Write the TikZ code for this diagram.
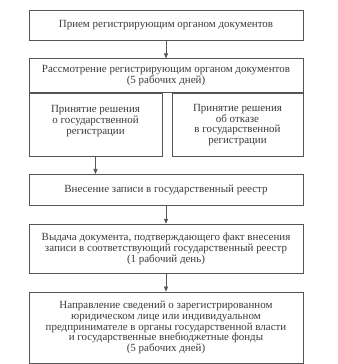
\documentclass[tikz,border=0pt]{standalone}
\usepackage{fontspec}
\setmainfont{Liberation Serif}
\usetikzlibrary{arrows.meta, positioning}
\definecolor{lineGray}{HTML}{555555}
\definecolor{textGray}{HTML}{3C3C3C}
\tikzset{
  box/.style={draw=lineGray, line width=0.8pt, fill=white, align=center,
              text=textGray, font=\fontsize{11}{10.9}\selectfont,
              minimum width=274bp, inner sep=1bp},
  half/.style={box, minimum width=#1, minimum height=63bp},
  arrow/.style={-{Triangle[length=5bp, width=4bp]}, draw=lineGray, line width=0.7pt},
}

\begin{document}
\begin{tikzpicture}
\useasboundingbox (0,0) rectangle (338bp,-364bp);

% main chain
\node[box, minimum height=30bp] (recv) at (166bp,-25bp)
  {Прием регистрирующим органом документов};
\node[box, minimum height=34bp, below=18bp of recv] (check)
  {Рассмотрение регистрирующим органом документов\\(5 рабочих дней)};

% two decisions
\node[half=133bp, below right=0bp and 0bp of check.south west] (yes)
  {Принятие решения\\о государственной\\регистрации\\~};
\node[half=131bp, below left=0bp and 0bp of check.south east] (no)
  {Принятие решения\\об отказе\\в государственной\\регистрации};

\node[box, minimum height=31bp, below=17bp of yes.south -| recv] (entry)
  {Внесение записи в государственный реестр};
\node[box, minimum height=49bp, below=18bp of entry] (issue)
  {Выдача документа, подтверждающего факт внесения\\
   записи в соответствующий государственный реестр\\(1 рабочий день)};
\node[box, minimum height=71bp, below=18bp of issue] (send)
  {Направление сведений о зарегистрированном\\юридическом лице или индивидуальном\\
   предпринимателе в органы государственной власти\\
   и государственные внебюджетные фонды\\(5 рабочих дней)};

% arrows
\draw[arrow] (recv) -- (check);
\draw[arrow] (yes.south) -- (yes.south |- entry.north);
\draw[arrow] (entry) -- (issue);
\draw[arrow] (issue) -- (send);

\end{tikzpicture}
\end{document}
